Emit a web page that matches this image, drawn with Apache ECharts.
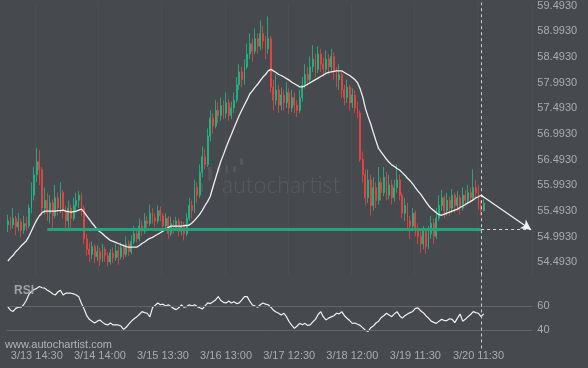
<!DOCTYPE html>
<html>
<head>
<meta charset="utf-8">
<script src="https://cdn.jsdelivr.net/npm/echarts@6/dist/echarts.min.js"></script>
<style>
html,body{margin:0;padding:0;background:#464a4f;}
#c{width:588px;height:368px;}
</style>
</head>
<body>
<div id="c"></div>
<script>
const tickIndex = [11, 35, 59, 83, 107, 131, 155, 179];
const tickLabels = ['3/13 14:30','3/14 14:00','3/15 13:30','3/16 13:00','3/17 12:30','3/18 12:00','3/19 11:30','3/20 11:30'];
const priceTicks = ['54.4930','54.9930','55.4930','55.9930','56.4930','56.9930','57.4930','57.9930','58.4930','58.9930','59.4930'];
const slotCount = 200;

const open = [
55.22,55.30,55.22,55.35,55.18,55.28,55.12,55.25,55.20,55.55,
55.80,56.20,56.45,56.30,55.55,55.70,55.45,55.65,55.40,55.75,
55.55,55.85,55.50,55.30,55.55,55.35,55.60,55.70,55.80,55.55,
54.95,54.75,54.65,54.80,54.60,54.70,54.55,54.75,54.62,54.50,
54.68,54.58,54.72,54.60,54.78,54.65,54.85,54.70,54.90,55.05,
54.95,55.20,55.10,55.30,55.25,55.45,55.35,55.30,55.50,55.40,
55.20,55.35,55.05,55.25,55.15,55.30,55.10,55.20,55.05,55.35,
55.60,55.50,55.95,55.80,56.25,56.55,56.40,56.95,57.30,57.15,
57.45,57.35,57.55,57.40,57.60,57.35,57.50,57.65,57.95,58.20,
58.05,58.30,58.55,58.75,58.60,58.85,58.70,58.95,58.80,58.65,
58.85,57.90,57.65,57.85,57.55,57.75,57.60,57.80,57.50,57.70,
57.55,57.45,57.70,57.95,58.15,58.05,58.30,58.45,58.25,58.55,
58.35,58.25,58.45,58.30,58.50,58.20,58.05,58.15,57.85,57.70,
57.90,57.60,57.75,57.50,57.40,56.50,56.20,55.75,56.10,55.60,
55.95,55.70,56.05,55.85,56.15,55.80,56.00,55.75,55.95,56.10,
55.80,55.45,55.60,55.30,55.20,55.45,55.15,55.00,54.85,55.10,
54.80,55.05,55.25,55.00,55.35,55.60,55.75,55.50,55.70,55.55,
55.80,55.60,55.75,55.55,55.80,55.70,55.85,55.75,55.95,55.85,
55.60,55.50];
const close = [
55.30,55.22,55.35,55.18,55.28,55.12,55.25,55.20,55.55,55.80,
56.20,56.45,56.30,55.55,55.70,55.45,55.65,55.40,55.75,55.55,
55.85,55.50,55.30,55.55,55.35,55.60,55.70,55.80,55.55,54.95,
54.75,54.65,54.80,54.60,54.70,54.55,54.75,54.62,54.50,54.68,
54.58,54.72,54.60,54.78,54.65,54.85,54.70,54.90,55.05,54.95,
55.20,55.10,55.30,55.25,55.45,55.35,55.30,55.50,55.40,55.20,
55.35,55.05,55.25,55.15,55.30,55.10,55.20,55.05,55.35,55.60,
55.50,55.95,55.80,56.25,56.55,56.40,56.95,57.30,57.15,57.45,
57.35,57.55,57.40,57.60,57.35,57.50,57.65,57.95,58.20,58.05,
58.30,58.55,58.75,58.60,58.85,58.70,58.95,58.80,58.65,58.85,
57.90,57.65,57.85,57.55,57.75,57.60,57.80,57.50,57.70,57.55,
57.45,57.70,57.95,58.15,58.05,58.30,58.45,58.25,58.55,58.35,
58.25,58.45,58.30,58.50,58.20,58.05,58.15,57.85,57.70,57.90,
57.60,57.75,57.50,57.40,56.50,56.20,55.75,56.10,55.60,55.95,
55.70,56.05,55.85,56.15,55.80,56.00,55.75,55.95,56.10,55.80,
55.45,55.60,55.30,55.20,55.45,55.15,55.00,54.85,55.10,54.80,
55.05,55.25,55.00,55.35,55.60,55.75,55.50,55.70,55.55,55.80,
55.60,55.75,55.55,55.80,55.70,55.85,55.75,55.95,55.85,55.60,
55.50,55.65];
const low = [
55.08,55.12,55.15,55.02,55.10,54.98,55.05,55.10,55.15,55.45,
55.70,56.05,56.00,55.40,55.42,55.30,55.25,55.15,55.35,55.40,
55.45,55.35,55.10,55.12,55.15,55.30,55.45,55.55,55.40,54.85,
54.62,54.50,54.55,54.48,54.52,54.42,54.50,54.50,54.42,54.45,
54.48,54.52,54.45,54.55,54.55,54.60,54.62,54.65,54.85,54.88,
54.90,55.00,55.05,55.15,55.20,55.25,55.18,55.25,55.30,55.10,
55.12,54.95,55.00,55.05,55.10,55.00,55.02,54.92,55.00,55.30,
55.35,55.45,55.65,55.75,56.15,56.30,56.35,56.85,57.00,57.10,
57.20,57.25,57.28,57.30,57.25,57.28,57.40,57.60,57.85,57.90,
57.95,58.25,58.45,58.40,58.55,58.55,58.62,58.65,58.45,58.55,
57.80,57.45,57.55,57.40,57.45,57.45,57.50,57.38,57.42,57.40,
57.32,57.40,57.62,57.88,57.92,57.98,58.20,58.10,58.18,58.20,
58.10,58.15,58.15,58.22,58.05,57.90,57.85,57.70,57.55,57.60,
57.45,57.50,57.40,57.30,56.45,56.05,55.60,55.65,55.40,55.50,
55.55,55.62,55.70,55.78,55.70,55.72,55.62,55.68,55.85,55.70,
55.35,55.30,55.15,54.95,55.10,55.00,54.85,54.68,54.75,54.65,
54.75,54.95,54.85,54.95,55.30,55.50,55.35,55.40,55.40,55.45,
55.45,55.50,55.42,55.50,55.58,55.62,55.65,55.70,55.72,55.52,
55.40,55.48];
const high = [
55.42,55.38,55.55,55.40,55.45,55.35,55.40,55.38,55.62,56.05,
56.35,56.72,56.68,56.35,55.95,55.85,55.80,55.72,56.00,55.85,
56.05,55.90,55.60,55.70,55.62,55.75,55.85,55.88,55.85,55.60,
55.05,54.88,54.90,54.85,54.82,54.78,54.85,54.80,54.70,54.75,
54.78,54.85,54.80,54.88,54.85,55.00,54.92,55.02,55.20,55.15,
55.35,55.30,55.45,55.40,55.62,55.55,55.45,55.60,55.58,55.45,
55.45,55.40,55.38,55.32,55.38,55.35,55.30,55.28,55.45,55.75,
55.70,56.10,56.05,56.40,56.75,56.70,57.10,57.45,57.40,57.65,
57.60,57.70,57.65,57.80,57.68,57.62,57.80,58.10,58.35,58.30,
58.45,58.75,58.95,58.85,59.05,58.95,59.20,59.10,58.90,59.28,
58.90,58.05,58.15,57.95,57.90,57.85,58.00,57.88,57.85,57.80,
57.65,57.85,58.10,58.35,58.30,58.50,58.72,58.55,58.70,58.65,
58.48,58.62,58.55,58.65,58.58,58.30,58.35,58.20,57.95,58.05,
57.95,57.88,57.85,57.62,57.45,56.65,56.30,56.30,56.20,56.15,
56.05,56.35,56.15,56.35,56.25,56.20,56.10,56.10,56.40,56.20,
55.85,55.75,55.65,55.40,55.55,55.50,55.25,55.10,55.20,55.15,
55.20,55.40,55.35,55.55,55.80,55.90,55.80,55.85,55.78,55.92,
55.85,55.88,55.80,55.95,55.90,56.00,55.95,56.30,56.10,56.00,
55.70,55.72];
const ma = [
54.52,54.58,54.63,54.70,54.75,54.81,54.86,54.91,55.00,55.11,
55.22,55.32,55.40,55.46,55.49,55.49,55.49,55.49,55.49,55.50,
55.50,55.51,55.49,55.48,55.47,55.48,55.49,55.51,55.53,55.47,
55.40,55.33,55.26,55.20,55.13,55.09,55.05,55.00,54.96,54.92,
54.90,54.88,54.86,54.84,54.82,54.80,54.79,54.79,54.79,54.79,
54.82,54.86,54.89,54.93,54.96,54.98,55.01,55.04,55.07,55.10,
55.14,55.17,55.20,55.20,55.20,55.20,55.20,55.21,55.21,55.22,
55.26,55.31,55.37,55.43,55.51,55.60,55.68,55.78,55.96,56.13,
56.30,56.46,56.59,56.73,56.86,56.98,57.11,57.23,57.35,57.46,
57.56,57.66,57.77,57.83,57.90,57.96,58.03,58.10,58.15,58.22,
58.25,58.22,58.19,58.15,58.13,58.10,58.07,58.04,58.00,57.97,
57.94,57.91,57.91,57.93,57.96,57.99,58.02,58.05,58.08,58.11,
58.14,58.17,58.19,58.20,58.21,58.22,58.22,58.22,58.19,58.16,
58.13,58.09,58.05,57.99,57.87,57.71,57.49,57.33,57.19,57.02,
56.86,56.71,56.64,56.57,56.50,56.44,56.39,56.36,56.32,56.29,
56.24,56.19,56.13,56.08,56.02,55.95,55.88,55.82,55.75,55.67,
55.60,55.54,55.50,55.46,55.42,55.41,55.43,55.45,55.47,55.49,
55.51,55.53,55.56,55.59,55.62,55.65,55.68,55.71,55.75,55.77,
55.80,55.76];
const rsi = [
59,56.5,55.5,58,59,59,61,64.5,69.5,72,
73.5,74.5,76,75,74.7,73,71.8,70,69,71.5,
73,69,70.5,70.7,70.5,70,69,67.5,62,57.5,
52,49,47.5,46,47.5,48.5,46.5,45,44.4,46,
44.4,44.4,44.4,43.5,40.8,42.5,45,47.5,49.5,51,
53,55.3,54.5,54,51,58.5,60.5,62.5,61,61.5,
60,61,59.5,58,57,58.5,60.8,59,59.5,61,
60,61,59.5,58.5,57.5,60,62.5,62,63.5,65,
67.7,64.5,63,62.5,64,62.5,63.5,62,62.5,65,
67.7,67.7,64,60.8,60,59,61,62.5,61.5,61,
59,56.5,55,54,52.6,54,51,47,44,41.6,
43.5,45.7,44.5,45.7,44,44.4,47,49,53,55.3,
51,48.5,50,51,52,54,53.5,55.3,52,49.9,
48,45.7,46,45,44,42,40,39,42,43.5,
46,47.5,50.5,52,54,52.5,51.2,53.5,55.3,52,
50,52,53.4,54.5,55.5,58,58.5,56,54.5,52,
50,47.5,46.5,45.7,47.5,49,48,48,49.5,49,
46.3,50,53.4,47.5,49,51.2,53,55.3,54.5,54,
51.2,53.5];
const supportLevel = 55.13;
const supportStart = 15, lastBar = 180, projEnd = 199;
const projStart = 55.80;

const categories = Array.from({length: slotCount}, (_, i) => 'b' + i);
const candleData = open.map((o, i) => [o, close[i], low[i], high[i]]);

const GREEN = '#1fbb86', RED = '#f2423e', BG = '#464a4f', TXT = '#a8acb0';
const FONT = 'Liberation Sans, Arial, sans-serif';
const gridL = 6.57, gridW = 525.8;

const chart = echarts.init(document.getElementById('c'), null, {renderer: 'canvas'});
chart.setOption({
  animation: false,
  backgroundColor: BG,
  textStyle: {fontFamily: FONT},
  grid: [
    {left: gridL, width: gridW, top: 1.36, height: 273.84},
    {left: gridL, width: gridW, top: 275.6, height: 72.9}
  ],
  xAxis: [
    {type: 'category', gridIndex: 0, data: categories, boundaryGap: true,
     axisLine: {show: false}, axisTick: {show: false}, axisLabel: {show: false},
     splitLine: {show: true, interval: (i) => tickIndex.includes(i), lineStyle: {color: '#4b4f54', width: 1}}},
    {type: 'category', gridIndex: 1, data: categories, boundaryGap: true,
     axisLine: {show: false}, axisTick: {show: false}, splitLine: {show: false},
     axisLabel: {show: true, interval: (i) => tickIndex.includes(i), margin: 2,
       color: TXT, fontSize: 11, fontFamily: FONT,
       formatter: (v, i) => { const k = tickIndex.indexOf(i); return k >= 0 ? tickLabels[k] : ''; }}}
  ],
  yAxis: [
    {type: 'value', gridIndex: 0, position: 'right', min: 54.243, max: 59.55, interval: 0.25,
     axisLine: {show: false}, axisTick: {show: false}, splitLine: {show: false},
     axisLabel: {show: true, margin: 5, color: TXT, fontSize: 11, fontFamily: FONT,
       formatter: (v) => { const k = Math.round((v - 54.243) / 0.25); return (k % 2 === 1) ? priceTicks[(k - 1) / 2] || '' : ''; }}},
    {type: 'value', gridIndex: 1, position: 'right', min: 25, max: 85, interval: 5,
     axisLine: {show: false}, axisTick: {show: false}, splitLine: {show: false},
     axisLabel: {show: true, margin: 5, color: TXT, fontSize: 11, fontFamily: FONT,
       formatter: (v) => (Math.abs(v - 40) < 0.01 || Math.abs(v - 60) < 0.01) ? String(Math.round(v)) : ''}}
  ],
  series: [
    {type: 'candlestick', xAxisIndex: 0, yAxisIndex: 0, data: candleData, barWidth: 1.4, z: 2,
     itemStyle: {color: GREEN, color0: RED, borderColor: GREEN, borderColor0: RED, borderWidth: 0.8},
     markLine: {silent: true, symbol: 'none', animation: false, label: {show: false},
       data: [
         [{coord: [supportStart, supportLevel], lineStyle: {color: '#23a57b', width: 3, type: 'solid'}},
          {coord: [lastBar, supportLevel]}],
         [{coord: [lastBar, supportLevel], lineStyle: {color: '#d6d6d6', width: 1, type: [3, 3]}},
          {coord: [projEnd, supportLevel]}],
         {xAxis: lastBar, lineStyle: {color: '#cfcfcf', width: 1, type: [3, 3]}}
       ]}},
    {type: 'line', xAxisIndex: 0, yAxisIndex: 0, data: ma, showSymbol: false, symbol: 'none',
     lineStyle: {color: '#eeeeee', width: 1.3}, z: 3,
     markLine: {silent: true, animation: false, label: {show: false}, symbol: ['none', 'arrow'], symbolSize: [8, 10],
       data: [[{coord: [lastBar, projStart], lineStyle: {color: '#f2f2f2', width: 1.2, type: 'solid'}},
               {coord: [projEnd, supportLevel]}]]}},
    {type: 'line', xAxisIndex: 1, yAxisIndex: 1, data: rsi, showSymbol: false, symbol: 'none',
     lineStyle: {color: '#f0f0f0', width: 1.2}, z: 3,
     markLine: {silent: true, symbol: 'none', animation: false, label: {show: false},
       data: [
         {yAxis: 60, lineStyle: {color: '#616569', width: 1, type: 'solid'}},
         {yAxis: 40, lineStyle: {color: '#616569', width: 1, type: 'solid'}},
         {xAxis: lastBar, lineStyle: {color: '#cfcfcf', width: 1, type: [3, 3]}}
       ]}}
  ],
  graphic: [
    {type: 'group', silent: true, z: 1, children: [
      {type: 'rect', shape: {x: 200, y: 183, width: 3, height: 9, r: 1}, style: {fill: '#53575c'}},
      {type: 'rect', shape: {x: 208, y: 167, width: 4, height: 13, r: 1}, style: {fill: '#53575c'}},
      {type: 'rect', shape: {x: 217, y: 167, width: 3, height: 6, r: 1}, style: {fill: '#53575c'}},
      {type: 'rect', shape: {x: 225, y: 165, width: 3, height: 8, r: 1}, style: {fill: '#53575c'}},
      {type: 'rect', shape: {x: 233, y: 166, width: 3, height: 6, r: 1}, style: {fill: '#53575c'}},
      {type: 'rect', shape: {x: 240, y: 158, width: 3, height: 7, r: 1}, style: {fill: '#53575c'}},
      {type: 'text', x: 222, y: 174, style: {text: 'autochartist', fill: '#575b60', font: '300 23px Lato, "DejaVu Sans", sans-serif'}}
    ]},
    {type: 'text', x: 14, y: 285, z: 10, style: {text: 'RSI', fill: '#9ea2a7', font: 'bold 12px "Liberation Sans", Arial, sans-serif'}},
    {type: 'text', x: 5, y: 339, z: 10, style: {text: 'www.autochartist.com', fill: '#b0b4b8', font: '11px "Liberation Sans", Arial, sans-serif'}}
  ]
});
</script>
</body>
</html>
